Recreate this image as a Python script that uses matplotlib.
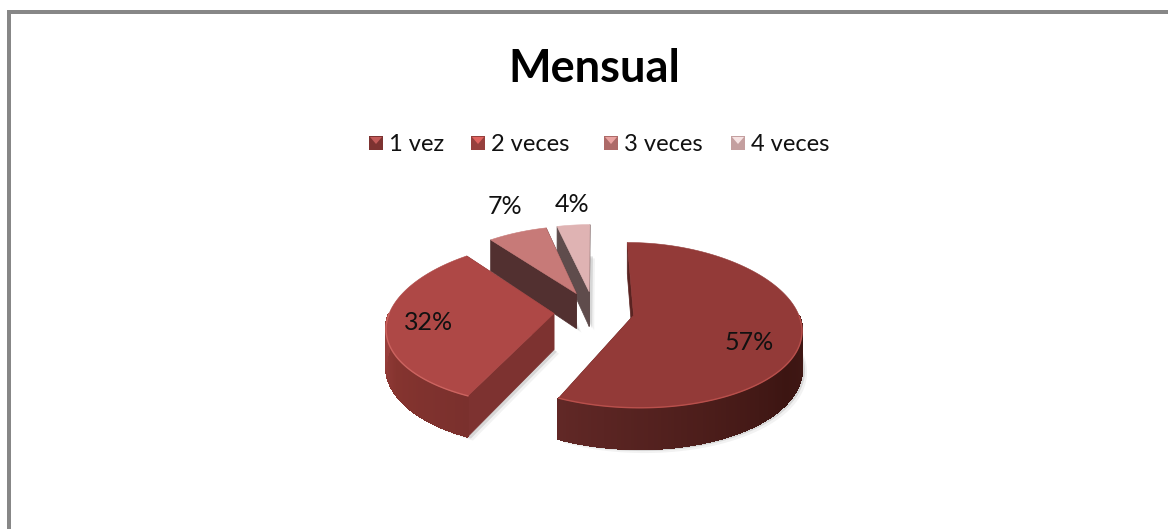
import numpy as np
import matplotlib
matplotlib.use('Agg')
import matplotlib.pyplot as plt
from matplotlib.colors import to_rgb
from matplotlib.patches import Polygon, Rectangle

categories = ['1 vez', '2 veces', '3 veces', '4 veces']
values = [57, 32, 7, 4]
title = 'Mensual'

top_colors = ['#933a38', '#ae4846', '#c77a78', '#dfb3b3']
wall_colors = ['#5a2321', '#7d3230', '#523030', '#5f4c4c']
# arc gradient stops: (theta, colour)
arc_stops = [[(90, '#421a16'), (125, '#3c1512'), (205, '#612826')],
             [(205, '#7a302d'), (240, '#85342f'), (270, '#9a403d')],
             None, None]
rim_colors = ['#b9504c', '#cc6460', None, None]
legend_dark = ['#7d3331', '#96403d', '#ad6a68', '#c49f9f']
legend_light = ['#c25a58', '#e0635f', '#eaa3a1', '#f6e2e2']
legend_x = [369, 471, 604, 731]
label_xy = [(749, 343), (429, 323), (505, 207), (572, 205)]

# projection of the pie plane to pixels
CX, Y0, A = 594, 311, 164
EXPLODE = 0.245
PERSP = 0.16
font = ['Lato', 'DejaVu Sans']


def project(X, Y):
    X, Y = np.asarray(X, float), np.asarray(Y, float)
    return CX + A * X * (1 + PERSP * Y), Y0 + 81.6 * Y + 9.75 * Y ** 2


def depth(Y):
    return 36 + 5 * np.asarray(Y, float)


def outline(t, off):
    r = np.radians(t)
    return off[0] + np.sin(r), off[1] - np.cos(r)


def lerp_colour(t, stops):
    ts = [s[0] for s in stops]
    rgb = np.array([to_rgb(s[1]) for s in stops])
    return [np.interp(t, ts, rgb[:, i]) for i in range(3)]


fig = plt.figure(figsize=(11.68, 5.29), dpi=100)
ax = fig.add_axes([0, 0, 1, 1])
ax.set_xlim(0, 1168)
ax.set_ylim(529, 0)
ax.axis('off')

# chart frame (only top and left show)
ax.add_patch(Rectangle((7, 10), 1161, 4, color='#878787', lw=0))
ax.add_patch(Rectangle((7, 10), 3.5, 519, color='#878787', lw=0))

ax.text(594, 69, title, fontsize=32.5, fontweight='bold', family=font, ha='center', va='center', color='black')

# legend
for i, cat in enumerate(categories):
    x = legend_x[i]
    ax.add_patch(Rectangle((x, 136), 14, 14, color=legend_dark[i], lw=0))
    ax.add_patch(Polygon([(x + 1, 137), (x + 13, 137), (x + 7, 144)], color=legend_light[i], lw=0))
    ax.text(x + 20, 144.5, cat, fontsize=17, family=font, ha='left', va='center', color='#111111')

# slices, back ones first
edges = np.cumsum([0] + values) * 3.6
order = [3, 2, 1, 0]
for i in order:
    t0, t1 = edges[i], edges[i + 1]
    mid = np.radians((t0 + t1) / 2)
    off = (EXPLODE * np.sin(mid), -EXPLODE * np.cos(mid))
    ts = np.linspace(t0, t1, max(int(t1 - t0), 8))
    X, Y = outline(ts, off)
    # top face goes apex -> arc
    fx = np.r_[off[0], X]
    fy = np.r_[off[1], Y]
    px, py = project(fx, fy)
    d = depth(fy)

    # soft shadow
    ax.add_patch(Polygon(np.c_[px + 5, py + d + 4], color='#999999', alpha=0.12, lw=0))
    ax.add_patch(Polygon(np.c_[px + 3, py + d + 2], color='#888888', alpha=0.25, lw=0))

    # straight walls
    for a, b in [(0, 1), (0, len(px) - 1)]:
        wall = [(px[a], py[a]), (px[b], py[b]), (px[b], py[b] + d[b]), (px[a], py[a] + d[a])]
        ax.add_patch(Polygon(wall, color=wall_colors[i], lw=0.5))

    # outer rounded side, front part only
    if arc_stops[i] is not None:
        front = ts[(ts >= 90) & (ts <= 270)]
        ax_, ay_ = outline(front, off)
        qx, qy = project(ax_, ay_)
        qd = depth(ay_)
        for k in range(len(front) - 1):
            quad = [(qx[k], qy[k]), (qx[k + 1], qy[k + 1]),
                    (qx[k + 1], qy[k + 1] + qd[k + 1]), (qx[k], qy[k] + qd[k])]
            c = lerp_colour(front[k], arc_stops[i])
            ax.add_patch(Polygon(quad, facecolor=c, edgecolor=c, lw=1, antialiased=False))

    ax.add_patch(Polygon(np.c_[px, py], facecolor=top_colors[i], edgecolor=top_colors[i], lw=0.4))

    if rim_colors[i] is not None:
        front = ts[(ts >= 90) & (ts <= 270)]
        ax_, ay_ = outline(front, off)
        qx, qy = project(ax_, ay_)
        ax.plot(qx, qy, color=rim_colors[i], lw=1)

for v, (x, y) in zip(values, label_xy):
    ax.text(x, y, '%d%%' % v, fontsize=18, family=font, ha='center', va='center', color='#111111')

fig.savefig('out.png', dpi=100)
